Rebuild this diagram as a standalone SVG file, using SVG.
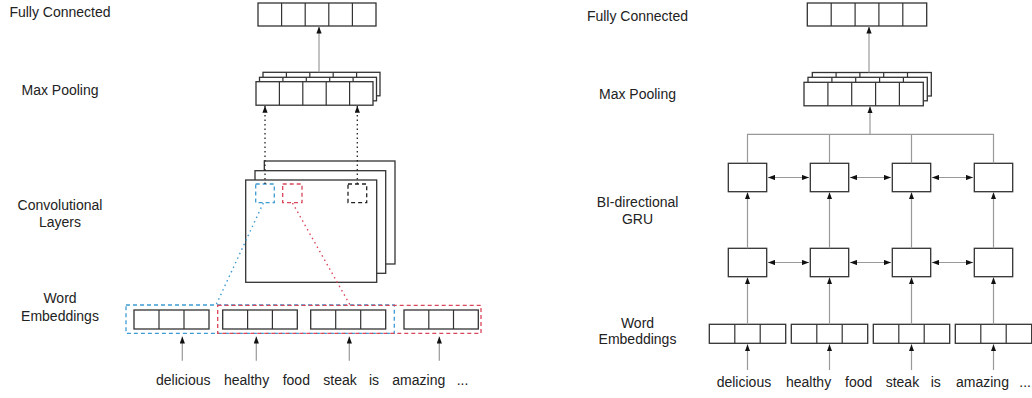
<svg xmlns="http://www.w3.org/2000/svg" width="1032" height="398" viewBox="0 0 1032 398">
<defs>
<marker id="ah" viewBox="0 0 8 6" refX="8" refY="3" markerWidth="7" markerHeight="5.5" markerUnits="userSpaceOnUse" orient="auto-start-reverse">
<path d="M0,0 L8,3 L0,6 z" fill="#111"/>
</marker>
</defs>
<style>
.lbl{font-family:"Liberation Sans",Arial,sans-serif;font-size:14px;fill:#222;text-anchor:middle}
.wd{font-family:"Liberation Sans",Arial,sans-serif;font-size:14px;fill:#222}
.box{fill:#fff;stroke:#333;stroke-width:1.3}
.cell{stroke:#333;stroke-width:1.2;fill:none}
.con{stroke:#999;stroke-width:1.2;fill:none}
.dot{stroke:#222;stroke-width:1.3;stroke-dasharray:1.5 3;fill:none}
.bd{stroke:#3d9bd4;stroke-width:1.3;stroke-dasharray:4 3;fill:none}
.rd{stroke:#d9465a;stroke-width:1.3;stroke-dasharray:4 3;fill:none}
.kd{stroke:#222;stroke-width:1.3;stroke-dasharray:4 3;fill:none}
.bdot{stroke:#3d9bd4;stroke-width:1.4;stroke-dasharray:1.5 3.5;fill:none}
.rdot{stroke:#d9465a;stroke-width:1.4;stroke-dasharray:1.5 3.5;fill:none}
</style>

<!-- Labels left -->
<g id="labels-left">
<text class="lbl" x="60" y="16.7">Fully Connected</text>
<text class="lbl" x="60" y="95">Max Pooling</text>
<text class="lbl" x="60" y="210">Convolutional</text>
<text class="lbl" x="60" y="227.3">Layers</text>
<text class="lbl" x="60" y="303.3">Word</text>
<text class="lbl" x="60" y="320.7">Embeddings</text>
</g>
<!-- Labels right -->
<g id="labels-right">
<text class="lbl" x="637.5" y="21">Fully Connected</text>
<text class="lbl" x="637.5" y="99.3">Max Pooling</text>
<text class="lbl" x="637.5" y="206.7">BI-directional</text>
<text class="lbl" x="637.5" y="224.3">GRU</text>
<text class="lbl" x="637.5" y="327.7">Word</text>
<text class="lbl" x="637.5" y="344.3">Embeddings</text>
</g>

<!-- LEFT: Fully connected -->
<g id="cnn-fc">
<rect class="box" x="258" y="3" width="118" height="23"/>
<path class="cell" d="M281.6,3V26M305.2,3V26M328.8,3V26M352.4,3V26"/>
</g>

<!-- LEFT: Max pooling stack -->
<g id="cnn-maxpool">
<rect class="box" x="263" y="72.3" width="117" height="23.5"/>
<path class="cell" d="M286.4,72.3V95.8M309.8,72.3V95.8M333.2,72.3V95.8M356.6,72.3V95.8"/>
<rect class="box" x="259.5" y="77.3" width="117" height="23.5"/>
<path class="cell" d="M282.9,77.3V100.8M306.3,77.3V100.8M329.7,77.3V100.8M353.1,77.3V100.8"/>
<rect class="box" x="256" y="81.7" width="117" height="23.5"/>
<path class="cell" d="M279.4,81.7V105.2M302.8,81.7V105.2M326.2,81.7V105.2M349.6,81.7V105.2"/>
</g>

<!-- LEFT: Convolutional layers -->
<g id="cnn-conv">
<rect class="box" x="264.3" y="161" width="130.7" height="103" stroke-width="1.5"/>
<rect class="box" x="255" y="170.7" width="130.7" height="102.6" stroke-width="1.5"/>
<rect class="box" x="245.7" y="180" width="131" height="102.3" stroke-width="1.5"/>
<rect class="bd" x="255.7" y="184" width="18.6" height="18.7"/>
<rect class="rd" x="282.7" y="184" width="19.3" height="18.7"/>
<rect class="kd" x="348" y="184" width="18.7" height="18.7"/>
</g>

<!-- LEFT: Word embeddings -->
<g id="cnn-emb">
<rect class="box" x="134" y="310" width="75" height="19"/>
<path class="cell" d="M159,310V329M184,310V329"/>
<rect class="box" x="222.7" y="310" width="74.6" height="19"/>
<path class="cell" d="M247.6,310V329M272.4,310V329"/>
<rect class="box" x="310.7" y="310" width="75" height="19"/>
<path class="cell" d="M335.7,310V329M360.7,310V329"/>
<rect class="box" x="404" y="310" width="74.3" height="19"/>
<path class="cell" d="M428.8,310V329M453.5,310V329"/>
<rect class="bd" x="126" y="305" width="268.3" height="28.3"/>
<rect class="rd" x="217.7" y="305.3" width="263.3" height="28"/>
</g>

<!-- LEFT words -->
<g id="cnn-words">
<text class="wd" x="156" y="385">delicious</text>
<text class="wd" x="224" y="385">healthy</text>
<text class="wd" x="282.7" y="385">food</text>
<text class="wd" x="323.3" y="385">steak</text>
<text class="wd" x="369" y="385">is</text>
<text class="wd" x="392.3" y="385">amazing</text>
<text class="wd" x="456.7" y="385">...</text>
</g>

<!-- RIGHT: Fully connected -->
<g id="gru-fc">
<rect class="box" x="807.3" y="3" width="119.4" height="23"/>
<path class="cell" d="M831.2,3V26M855.1,3V26M878.9,3V26M902.8,3V26"/>
</g>

<!-- RIGHT: Max pooling stack -->
<g id="gru-maxpool">
<rect class="box" x="812.3" y="72.5" width="119" height="23.5"/>
<path class="cell" d="M836.1,72.5V96M859.9,72.5V96M883.7,72.5V96M907.5,72.5V96"/>
<rect class="box" x="808" y="77.3" width="119.3" height="23.5"/>
<path class="cell" d="M831.9,77.3V100.8M855.7,77.3V100.8M879.6,77.3V100.8M903.4,77.3V100.8"/>
<rect class="box" x="804" y="82.3" width="119.3" height="23.5"/>
<path class="cell" d="M827.9,82.3V105.8M851.7,82.3V105.8M875.6,82.3V105.8M899.4,82.3V105.8"/>
</g>

<!-- RIGHT: GRU cells -->
<g id="gru-u1"><rect class="box" x="728.3" y="163.3" width="38.4" height="28.4"/></g>
<g id="gru-u2"><rect class="box" x="810.3" y="163.3" width="38.4" height="28.4"/></g>
<g id="gru-u3"><rect class="box" x="892.3" y="163.3" width="38.4" height="28.4"/></g>
<g id="gru-u4"><rect class="box" x="974.3" y="163.3" width="38.4" height="28.4"/></g>
<g id="gru-l1"><rect class="box" x="728.3" y="248.3" width="38.4" height="28.4"/></g>
<g id="gru-l2"><rect class="box" x="810.3" y="248.3" width="38.4" height="28.4"/></g>
<g id="gru-l3"><rect class="box" x="892.3" y="248.3" width="38.4" height="28.4"/></g>
<g id="gru-l4"><rect class="box" x="974.3" y="248.3" width="38.4" height="28.4"/></g>

<!-- RIGHT: embeddings -->
<g id="gru-emb1">
<rect class="box" x="709.3" y="324.3" width="76.4" height="19"/>
<path class="cell" d="M734.8,324.3V343.3M760.2,324.3V343.3"/>
</g>
<g id="gru-emb2">
<rect class="box" x="791.3" y="324.3" width="76.4" height="19"/>
<path class="cell" d="M816.8,324.3V343.3M842.2,324.3V343.3"/>
</g>
<g id="gru-emb3">
<rect class="box" x="873.3" y="324.3" width="76.4" height="19"/>
<path class="cell" d="M898.8,324.3V343.3M924.2,324.3V343.3"/>
</g>
<g id="gru-emb4">
<rect class="box" x="955.3" y="324.3" width="76.4" height="19"/>
<path class="cell" d="M980.8,324.3V343.3M1006.2,324.3V343.3"/>
</g>

<!-- RIGHT words -->
<g id="gru-words">
<text class="wd" x="716.7" y="387.3">delicious</text>
<text class="wd" x="786" y="387.3">healthy</text>
<text class="wd" x="845" y="387.3">food</text>
<text class="wd" x="885.7" y="387.3">steak</text>
<text class="wd" x="930.7" y="387.3">is</text>
<text class="wd" x="956" y="387.3">amazing</text>
<text class="wd" x="1019.3" y="387.3">...</text>
</g>

<!-- Connectors -->
<g id="connectors">
<!-- left -->
<line class="con" x1="319" y1="72.3" x2="319" y2="26.5" marker-end="url(#ah)"/>
<line class="dot" x1="265" y1="184" x2="265" y2="105.8" marker-end="url(#ah)"/>
<line class="dot" x1="357.3" y1="184" x2="357.3" y2="105.8" marker-end="url(#ah)"/>
<line class="bdot" x1="263.3" y1="203" x2="216" y2="305"/>
<line class="rdot" x1="292.5" y1="203" x2="350" y2="305"/>
<line class="con" x1="182.3" y1="360.7" x2="182.3" y2="336.5" marker-end="url(#ah)"/>
<line class="con" x1="256.3" y1="360.7" x2="256.3" y2="336.5" marker-end="url(#ah)"/>
<line class="con" x1="349.3" y1="360.7" x2="349.3" y2="336.5" marker-end="url(#ah)"/>
<line class="con" x1="439.3" y1="360.7" x2="439.3" y2="336.5" marker-end="url(#ah)"/>
<!-- right -->
<line class="con" x1="869" y1="72.5" x2="869" y2="26.5" marker-end="url(#ah)"/>
<line class="con" x1="870" y1="134.3" x2="870" y2="106.3" marker-end="url(#ah)"/>
<path class="con" d="M747.5,163.3V134.3H993.5V163.3M829.5,134.3V163.3M911.5,134.3V163.3"/>
<line class="con" x1="768" y1="177.5" x2="809" y2="177.5" marker-start="url(#ah)" marker-end="url(#ah)"/>
<line class="con" x1="850" y1="177.5" x2="891" y2="177.5" marker-start="url(#ah)" marker-end="url(#ah)"/>
<line class="con" x1="932" y1="177.5" x2="973" y2="177.5" marker-start="url(#ah)" marker-end="url(#ah)"/>
<line class="con" x1="768" y1="262.5" x2="809" y2="262.5" marker-start="url(#ah)" marker-end="url(#ah)"/>
<line class="con" x1="850" y1="262.5" x2="891" y2="262.5" marker-start="url(#ah)" marker-end="url(#ah)"/>
<line class="con" x1="932" y1="262.5" x2="973" y2="262.5" marker-start="url(#ah)" marker-end="url(#ah)"/>
<line class="con" x1="747.5" y1="248.3" x2="747.5" y2="192.3" marker-end="url(#ah)"/>
<line class="con" x1="829.5" y1="248.3" x2="829.5" y2="192.3" marker-end="url(#ah)"/>
<line class="con" x1="911.5" y1="248.3" x2="911.5" y2="192.3" marker-end="url(#ah)"/>
<line class="con" x1="993.5" y1="248.3" x2="993.5" y2="192.3" marker-end="url(#ah)"/>
<line class="con" x1="747.5" y1="324.3" x2="747.5" y2="277.3" marker-end="url(#ah)"/>
<line class="con" x1="829.5" y1="324.3" x2="829.5" y2="277.3" marker-end="url(#ah)"/>
<line class="con" x1="911.5" y1="324.3" x2="911.5" y2="277.3" marker-end="url(#ah)"/>
<line class="con" x1="993.5" y1="324.3" x2="993.5" y2="277.3" marker-end="url(#ah)"/>
<line class="con" x1="747.5" y1="370" x2="747.5" y2="344.3" marker-end="url(#ah)"/>
<line class="con" x1="829.5" y1="370" x2="829.5" y2="344.3" marker-end="url(#ah)"/>
<line class="con" x1="911.5" y1="370" x2="911.5" y2="344.3" marker-end="url(#ah)"/>
<line class="con" x1="993.5" y1="370" x2="993.5" y2="344.3" marker-end="url(#ah)"/>
</g>
</svg>
